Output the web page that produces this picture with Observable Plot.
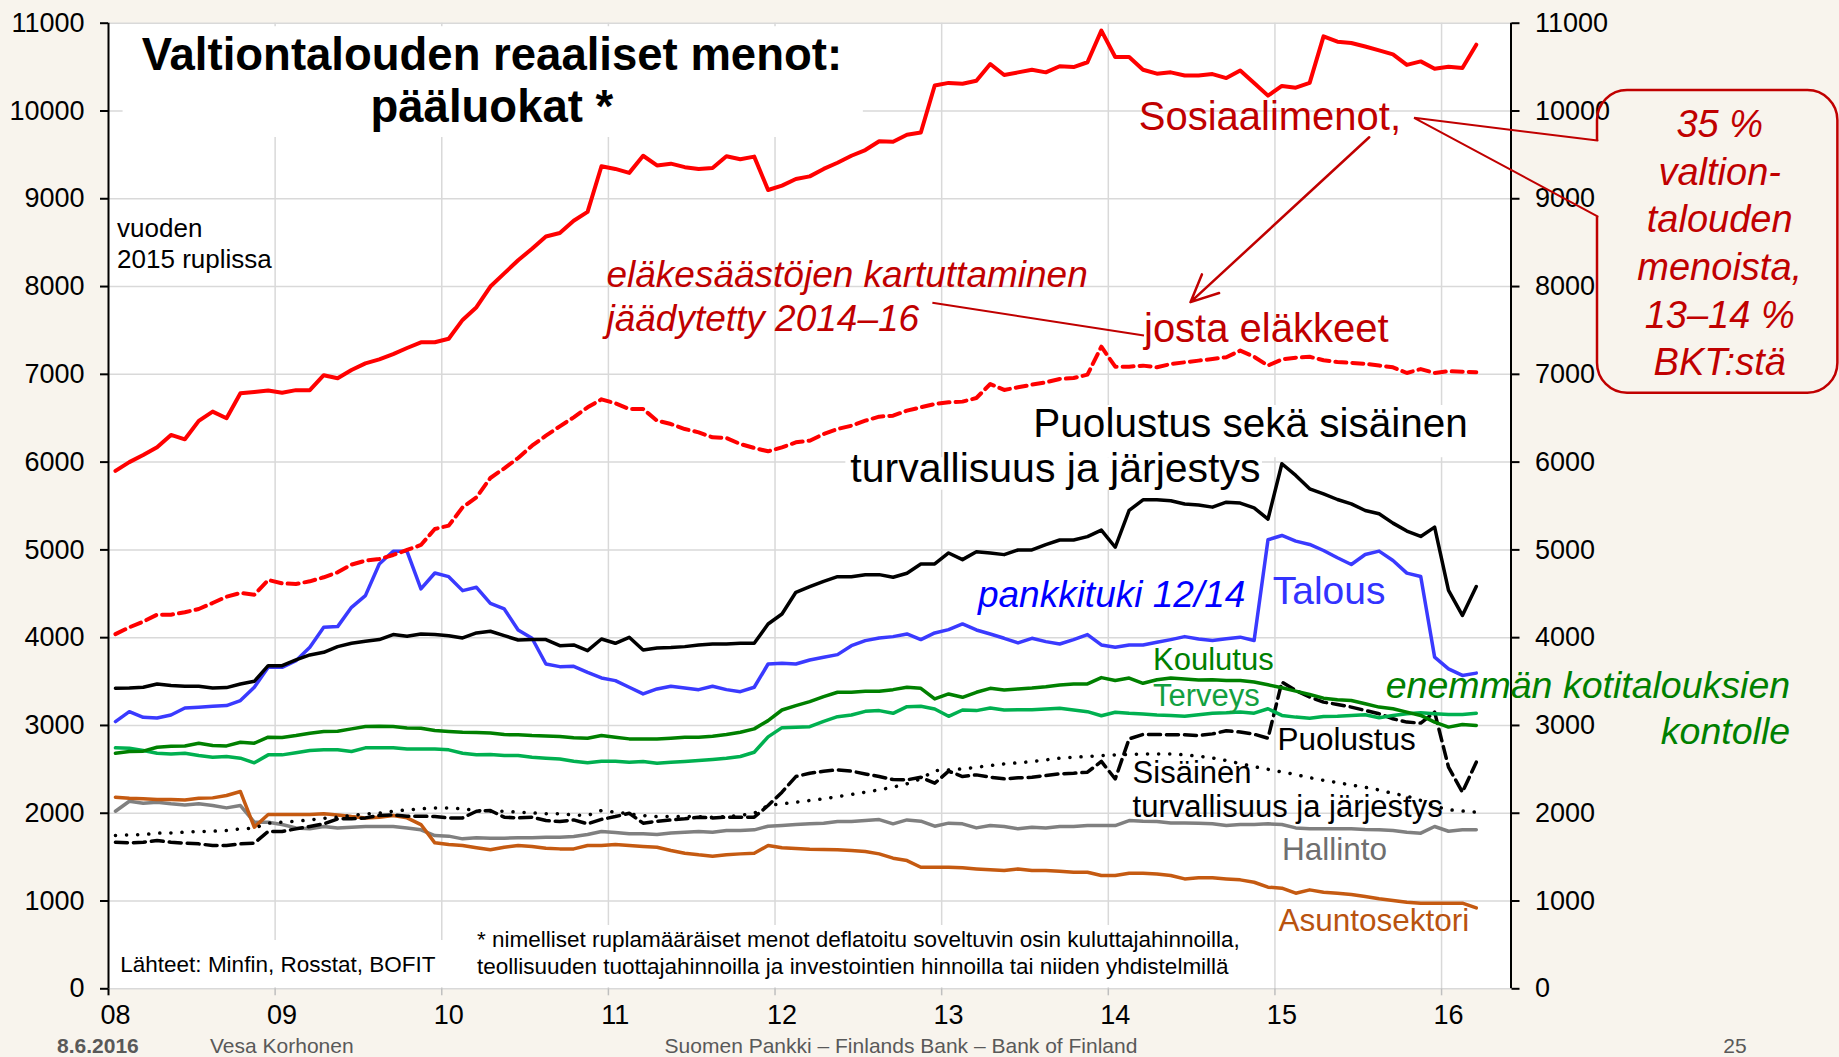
<!DOCTYPE html>
<html><head><meta charset="utf-8">
<script src="https://cdn.jsdelivr.net/npm/d3@7"></script>
<script src="https://cdn.jsdelivr.net/npm/@observablehq/plot@0.6"></script>
<style>
html,body{margin:0;padding:0;background:#F8F4ED;}
body{width:1839px;height:1057px;overflow:hidden;font-family:"Liberation Sans",Arial,sans-serif;}
#chart svg{display:block}
#footer{position:relative;height:29px;width:1839px;color:#595959;font-size:21px;line-height:21px;}
#footer span{position:absolute;top:7px;white-space:nowrap}
</style></head><body>
<div id="chart"></div>
<div id="footer">
 <span style="left:57px;font-weight:bold">8.6.2016</span>
 <span style="left:210px">Vesa Korhonen</span>
 <span style="left:901px;transform:translateX(-50%)">Suomen Pankki – Finlands Bank – Bank of Finland</span>
 <span style="left:1735px;transform:translateX(-50%)">25</span>
</div>
<script>
// ---- data: monthly values Jan 2008 ... Mar 2016 (index 0 = Jan 2008) ----
const yearLabels = ["08","09","10","11","12","13","14","15","16"];

const sosiaalimenot = [5900,6000,6080,6170,6310,6260,6470,6575,6500,6785,6800,6815,6790,6820,6820,6990,6955,7050,7125,7170,7230,7300,7365,7365,7405,7620,7765,8000,8150,8300,8430,8570,8610,8750,8850,9370,9340,9295,9490,9380,9400,9360,9340,9350,9485,9450,9480,9100,9150,9225,9255,9340,9410,9490,9555,9655,9650,9730,9755,10290,10320,10310,10345,10535,10410,10440,10470,10440,10510,10500,10555,10915,10615,10615,10470,10425,10440,10405,10405,10420,10375,10460,10320,10175,10285,10265,10320,10850,10790,10775,10735,10690,10645,10525,10565,10480,10505,10490,10755];

const elakkeet = [4040,4118,4183,4262,4262,4289,4327,4395,4467,4509,4490,4657,4619,4612,4642,4688,4745,4832,4877,4896,4942,4999,5056,5238,5276,5485,5599,5819,5929,6047,6187,6301,6408,6510,6624,6715,6670,6605,6605,6472,6434,6377,6339,6282,6275,6206,6161,6123,6168,6225,6244,6320,6377,6415,6472,6518,6529,6586,6624,6662,6681,6689,6730,6890,6822,6852,6882,6909,6947,6958,6996,7315,7087,7087,7099,7080,7118,7137,7156,7175,7195,7270,7200,7100,7170,7190,7200,7160,7140,7130,7120,7100,7080,7015,7060,7015,7035,7030,7025];

const puolustusSisainen = [3423,3427,3435,3473,3454,3446,3446,3427,3431,3473,3503,3681,3681,3746,3803,3833,3898,3936,3959,3978,4035,4016,4042,4035,4023,3997,4054,4073,4023,3974,3978,3978,3909,3917,3852,3985,3936,4004,3860,3883,3887,3898,3917,3928,3928,3936,3936,4156,4270,4517,4581,4642,4695,4695,4718,4718,4688,4734,4840,4840,4965,4889,4980,4965,4946,4999,4999,5060,5113,5113,5151,5225,5030,5450,5570,5570,5560,5523,5512,5487,5544,5533,5479,5350,5981,5848,5696,5639,5574,5525,5449,5411,5305,5214,5153,5259,4538,4253,4583];

const talous = [3044,3157,3093,3085,3119,3199,3207,3218,3226,3283,3435,3662,3662,3738,3890,4118,4126,4346,4479,4840,4984,4984,4555,4737,4695,4536,4574,4391,4327,4088,3993,3700,3670,3674,3605,3541,3511,3435,3359,3416,3446,3427,3408,3446,3408,3385,3435,3700,3708,3700,3746,3776,3807,3909,3966,3997,4012,4042,3978,4054,4092,4156,4088,4042,3993,3940,3993,3955,3928,3978,4035,3917,3890,3917,3917,3947,3978,4012,3985,3968,3987,4006,3968,5115,5164,5100,5062,4993,4910,4834,4948,4986,4880,4735,4697,3778,3645,3570,3596];

const koulutus = [2684,2703,2707,2752,2764,2767,2798,2771,2767,2809,2798,2866,2862,2885,2912,2931,2934,2961,2988,2991,2988,2972,2969,2942,2931,2923,2919,2915,2896,2893,2885,2881,2874,2859,2855,2885,2866,2847,2847,2847,2855,2866,2866,2878,2896,2923,2961,3055,3176,3226,3271,3328,3378,3378,3389,3389,3408,3435,3423,3302,3359,3321,3378,3423,3404,3416,3427,3442,3461,3473,3473,3545,3512,3540,3480,3520,3540,3530,3518,3520,3513,3513,3494,3463,3429,3391,3353,3311,3292,3285,3247,3209,3190,3152,3114,3038,2981,3011,3000];

const terveys = [2745,2741,2714,2684,2676,2684,2657,2638,2646,2627,2574,2665,2665,2688,2714,2722,2722,2703,2745,2745,2745,2733,2733,2733,2722,2684,2665,2669,2657,2657,2638,2627,2619,2593,2574,2593,2593,2581,2589,2570,2581,2589,2600,2612,2627,2646,2695,2870,2975,2980,2986,3047,3100,3119,3161,3169,3138,3214,3218,3188,3104,3176,3169,3199,3176,3180,3180,3188,3195,3176,3157,3110,3150,3138,3131,3119,3112,3104,3123,3140,3144,3152,3140,3190,3114,3095,3083,3102,3106,3114,3121,3087,3114,3133,3144,3133,3125,3125,3140];

const puolustus = [1670,1663,1670,1689,1670,1659,1651,1632,1632,1651,1659,1792,1792,1822,1849,1879,1936,1936,1947,1974,1981,1966,1966,1962,1947,1947,2023,2031,1955,1947,1955,1917,1906,1924,1879,1930,1962,2000,1887,1909,1924,1936,1955,1947,1955,1955,1955,2088,2240,2418,2456,2479,2494,2479,2448,2418,2384,2380,2410,2342,2479,2418,2437,2410,2392,2403,2410,2430,2448,2456,2468,2590,2390,2847,2897,2897,2893,2893,2885,2904,2940,2925,2900,2855,3494,3399,3323,3266,3239,3209,3171,3133,3076,3038,3027,3152,2525,2240,2582];

const sisainenTurvallisuus = [1746,1754,1757,1773,1776,1784,1792,1795,1803,1822,1830,1887,1898,1909,1924,1943,1955,1974,1993,2000,2023,2038,2050,2061,2061,2050,2031,2023,2023,2012,2004,1993,1993,1981,1974,2031,2012,1993,1974,1962,1962,1962,1962,1955,1962,1974,2000,2088,2107,2126,2145,2164,2190,2213,2240,2266,2297,2335,2392,2486,2494,2505,2524,2543,2562,2574,2589,2608,2627,2638,2646,2657,2665,2669,2676,2676,2676,2665,2650,2630,2600,2565,2530,2500,2470,2440,2405,2375,2350,2320,2295,2265,2225,2195,2145,2080,2040,2025,2012];

const hallinto = [2023,2137,2114,2126,2107,2095,2107,2088,2061,2088,1898,1898,1871,1833,1822,1849,1833,1841,1849,1849,1849,1833,1811,1746,1739,1708,1720,1716,1716,1720,1720,1727,1727,1735,1757,1792,1780,1765,1765,1757,1776,1784,1792,1784,1803,1803,1811,1852,1860,1871,1879,1887,1906,1906,1917,1928,1879,1924,1909,1852,1887,1879,1833,1860,1849,1822,1841,1833,1849,1849,1860,1860,1860,1917,1909,1906,1890,1890,1887,1879,1860,1871,1871,1879,1871,1833,1822,1822,1822,1822,1814,1811,1803,1784,1773,1849,1795,1811,1811];

const asuntosektori = [2183,2171,2164,2156,2156,2152,2171,2175,2202,2247,1841,1985,1985,1985,1985,1993,1981,1962,1947,1955,1974,1947,1871,1663,1644,1632,1606,1583,1613,1632,1621,1602,1594,1594,1632,1632,1644,1632,1621,1613,1575,1545,1526,1511,1526,1537,1545,1632,1606,1598,1590,1587,1583,1575,1564,1537,1488,1461,1385,1385,1385,1378,1366,1355,1347,1366,1347,1347,1340,1328,1328,1290,1290,1317,1317,1309,1290,1252,1264,1264,1252,1241,1214,1158,1146,1089,1127,1101,1089,1074,1051,1025,1006,987,975,975,975,975,922];

// ---- layout / style ----
const BG = "#F8F4ED", DARKRED = "#C00000";
const FONT = "'Liberation Sans', Arial, Helvetica, sans-serif";
const yTicks = d3.range(0, 11001, 1000);
const yearTicks = yearLabels.map((_, k) => k * 12);          // January of each year
const yearBounds = yearLabels.slice(1).map((_, k) => (k + 1) * 12 - 0.5); // year boundaries
const plain = d => String(d);

const rows = values => values.map((v, i) => ({m: i, v}));
const line = (values, o) => Plot.line(rows(values), {x: "m", y: "v", strokeLinejoin: "round", ...o});
const label = (x, y, text, o) => Plot.text([{x, y, text}], {x: "x", y: "y", text: "text", lineAnchor: "bottom", textAnchor: "start", fontFamily: FONT, ...o});
const box = (x1, x2, y1, y2, o) => Plot.rect([{x1, x2, y1, y2}], {x1: "x1", x2: "x2", y1: "y1", y2: "y2", ...o});

const H = 1028;
const chart = Plot.plot({
  width: 1839, height: H,
  marginLeft: 108, marginRight: 328.5, marginTop: 22.7, marginBottom: H - 988.3,
  x: {type: "linear", domain: [-0.5, 100.5], axis: null},
  y: {type: "linear", domain: [0, 11000], axis: null},
  style: {background: "transparent", fontFamily: FONT, color: "#000", overflow: "visible"},
  marks: [
    Plot.frame({fill: "white", stroke: "none"}),
    Plot.gridY(yTicks, {stroke: "#d9d9d9", strokeOpacity: 1, strokeWidth: 1.5}),
    Plot.gridX(yearBounds, {stroke: "#d9d9d9", strokeOpacity: 1, strokeWidth: 1.5}),
    // white text boxes
    box(0.55, 53.86, 10960, 9698, {fill: "white"}),
    box(65.5, 98, 6645, 6050, {fill: "white"}),
    box(52.6, 82.6, 6050, 5680, {fill: "white"}),
    box(-0.2, 23.8, 550, 12, {fill: "white"}),
    box(25.6, 81.9, 721, 12, {fill: "white"}),
    // series
    line(hallinto, {stroke: "#808080", strokeWidth: 3.5}),
    line(asuntosektori, {stroke: "#C55A11", strokeWidth: 3.5}),
    line(sisainenTurvallisuus, {stroke: "#000", strokeWidth: 3.5, strokeDasharray: "0.1 11", strokeLinecap: "round"}),
    line(puolustus, {stroke: "#000", strokeWidth: 3.5, strokeDasharray: "12 6"}),
    line(terveys, {stroke: "#00B050", strokeWidth: 3.5}),
    line(koulutus, {stroke: "#008000", strokeWidth: 3.5}),
    line(talous, {stroke: "#3a3aff", strokeWidth: 3.5}),
    line(puolustusSisainen, {stroke: "#000", strokeWidth: 3.5}),
    line(elakkeet, {stroke: "#FF0000", strokeWidth: 4, strokeDasharray: "11 6"}),
    line(sosiaalimenot, {stroke: "#FF0000", strokeWidth: 4}),
    // axes
    Plot.ruleX([-0.5, 100.5], {stroke: "#000", strokeWidth: 2}),
    Plot.axisY(yTicks, {anchor: "left", tickSize: 8, tickPadding: 16, fontSize: 27, strokeWidth: 2, tickFormat: plain, label: null}),
    Plot.axisY(yTicks, {anchor: "right", tickSize: 8, tickPadding: 16, fontSize: 27, strokeWidth: 2, tickFormat: plain, label: null}),
    Plot.axisX(yearBounds, {anchor: "bottom", tickSize: 7, stroke: "#bfbfbf", strokeWidth: 1.5, tickFormat: () => "", label: null}),
    Plot.axisX([-0.5], {anchor: "bottom", tickSize: 7, stroke: "#000", strokeWidth: 2, tickFormat: () => "", label: null}),
    Plot.axisX(yearTicks, {anchor: "bottom", tickSize: 0, tickPadding: 16, fontSize: 27, tickFormat: d => yearLabels[d / 12], label: null}),
    // texts
    label(27.11, 9872, "Valtiontalouden reaaliset menot:\npääluokat *", {textAnchor: "middle", fontSize: 45.5, fontWeight: "bold", lineHeight: 1.14, fill: "#000"}),
    label(0.12, 8209, "vuoden\n2015 ruplissa", {fontSize: 26, lineHeight: 1.19, fill: "#000"}),
    label(73.69, 9778, "Sosiaalimenot,", {fontSize: 40, fill: DARKRED}),
    label(35.36, 7499, "eläkesäästöjen kartuttaminen\njäädytetty 2014–16", {fontSize: 37, fontStyle: "italic", lineHeight: 1.17, fill: DARKRED}),
    label(74.07, 7366, "josta eläkkeet", {fontSize: 40, fill: DARKRED}),
    label(66.1, 6284, "Puolustus sekä sisäinen", {fontSize: 40.5, fill: "#000"}),
    label(52.92, 5772, "turvallisuus ja järjestys", {fontSize: 41, fill: "#000"}),
    label(62.11, 4347, "pankkituki 12/14", {fontSize: 37, fontStyle: "italic", fill: "#0000FF"}),
    label(83.34, 4378, "Talous", {fontSize: 39, fill: "#3333FF"}),
    label(74.72, 3634, "Koulutus", {fontSize: 31, fill: "#008000"}),
    label(74.72, 3216, "Terveys", {fontSize: 31, fill: "#13A040"}),
    label(120.6, 2791, "enemmän kotitalouksien\nkontolle", {textAnchor: "end", fontSize: 37.5, fontStyle: "italic", lineHeight: 1.22, fill: "#008000"}),
    label(83.68, 2723, "Puolustus", {fontSize: 31.5, fill: "#000"}),
    label(73.25, 1955, "Sisäinen\nturvallisuus ja järjestys", {fontSize: 31, lineHeight: 1.1, fill: "#000"}),
    label(84.0, 1470, "Hallinto", {fontSize: 31.5, fill: "#6f6f6f"}),
    label(83.75, 656, "Asuntosektori", {fontSize: 31.5, fill: "#B9530F"}),
    label(0.35, 189, "Lähteet: Minfin, Rosstat, BOFIT", {fontSize: 22.5, fill: "#000"}),
    label(26.03, 171, "* nimelliset ruplamääräiset menot deflatoitu soveltuvin osin kuluttajahinnoilla,\nteollisuuden tuottajahinnoilla ja investointien hinnoilla tai niiden yhdistelmillä", {fontSize: 22.5, lineHeight: 1.18, fill: "#000"}),
    // arrows / connectors
    Plot.arrow([{x1: 90.29, y1: 9701, x2: 77.42, y2: 7822}], {x1: "x1", y1: "y1", x2: "x2", y2: "y2", stroke: DARKRED, strokeWidth: 2.5, headLength: 18, headAngle: 50}),
    Plot.link([{x1: 58.83, y1: 7815, x2: 74.07, y2: 7443}], {x1: "x1", y1: "y1", x2: "x2", y2: "y2", stroke: DARKRED, strokeWidth: 2}),
    // callout
    box(106.73, 124.04, 10233, 6785, {fill: "none", stroke: DARKRED, strokeWidth: 2.5, rx: 30}),
    Plot.link([{x1: 106.73, y1: 9664, x2: 106.73, y2: 8799}], {x1: "x1", y1: "y1", x2: "x2", y2: "y2", stroke: BG, strokeWidth: 5}),
    Plot.line([[106.73, 9664], [93.52, 9922], [106.73, 8799]], {x: d => d[0], y: d => d[1], stroke: DARKRED, strokeWidth: 2, strokeLinejoin: "miter"}),
    label(115.53, 6987, "35 %\nvaltion-\ntalouden\nmenoista,\n13–14 %\nBKT:stä", {textAnchor: "middle", fontSize: 38, fontStyle: "italic", lineHeight: 1.255, fill: DARKRED})
  ]
});
document.getElementById("chart").appendChild(chart);
</script>
</body></html>
